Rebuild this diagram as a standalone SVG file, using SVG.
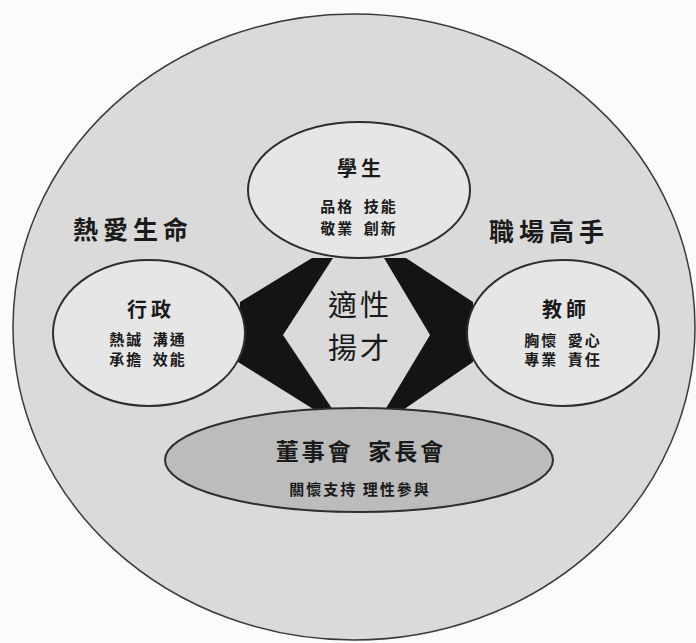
<svg xmlns="http://www.w3.org/2000/svg" width="696" height="643" viewBox="0 0 696 643">
<style>
text{font-family:"Noto Sans CJK TC","Noto Sans CJK SC",sans-serif;fill:#1a1a1a;text-anchor:middle;dominant-baseline:central}
.node{fill:#e6e6e6;stroke:#2e2e2e;stroke-width:2}
.title{font-size:20px;font-weight:700;letter-spacing:4px}
.sub{font-size:15px;font-weight:700;letter-spacing:2px}
.side{font-size:25px;font-weight:700;letter-spacing:5px}
.mid{font-size:29px;letter-spacing:3px}
.bar{fill:#141414}
</style>
<rect width="696" height="643" fill="#fbfbfb"/>
<ellipse id="outer" cx="354" cy="327" rx="341" ry="313" fill="#dadada" stroke="#3a3a3a" stroke-width="1.5"/>
<g id="connectors">
<polygon class="bar" points="312,258 240,302 238,362 318,412 333,410 283,335 333,258"/>
<polygon class="bar" points="384,258 430,335 385,410 400,412 473,362 473,302 406,258"/>
</g>
<g id="student">
<ellipse class="node" cx="359" cy="190" rx="111" ry="68"/>
<text class="title" x="361" y="167">學生</text>
<text class="sub" x="359" y="205">品格&#8194;技能</text>
<text class="sub" x="359" y="227">敬業&#8194;創新</text>
</g>
<g id="admin">
<ellipse class="node" cx="149" cy="333" rx="96" ry="73"/>
<text class="title" x="151" y="308">行政</text>
<text class="sub" x="148" y="338">熱誠&#8194;溝通</text>
<text class="sub" x="148" y="358">承擔&#8194;效能</text>
</g>
<g id="teacher">
<ellipse class="node" cx="563" cy="333" rx="96" ry="73"/>
<text class="title" x="566" y="308">教師</text>
<text class="sub" x="563" y="339">胸懷&#8194;愛心</text>
<text class="sub" x="563" y="358">專業&#8194;責任</text>
</g>
<g id="board">
<ellipse cx="359" cy="460" rx="194" ry="52" fill="#bcbcbc" stroke="#2e2e2e" stroke-width="2"/>
<text x="361" y="450" style="font-size:23px;font-weight:700;letter-spacing:3px">董事會&#8194;家長會</text>
<text x="360" y="488" style="font-size:15px;font-weight:700;letter-spacing:2px">關懷支持 理性參與</text>
</g>
<g id="center">
<text class="mid" x="360" y="303">適性</text>
<text class="mid" x="360" y="346">揚才</text>
</g>
<g id="labels">
<text class="side" x="133" y="228">熱愛生命</text>
<text class="side" x="549" y="230">職場高手</text>
</g>
</svg>
